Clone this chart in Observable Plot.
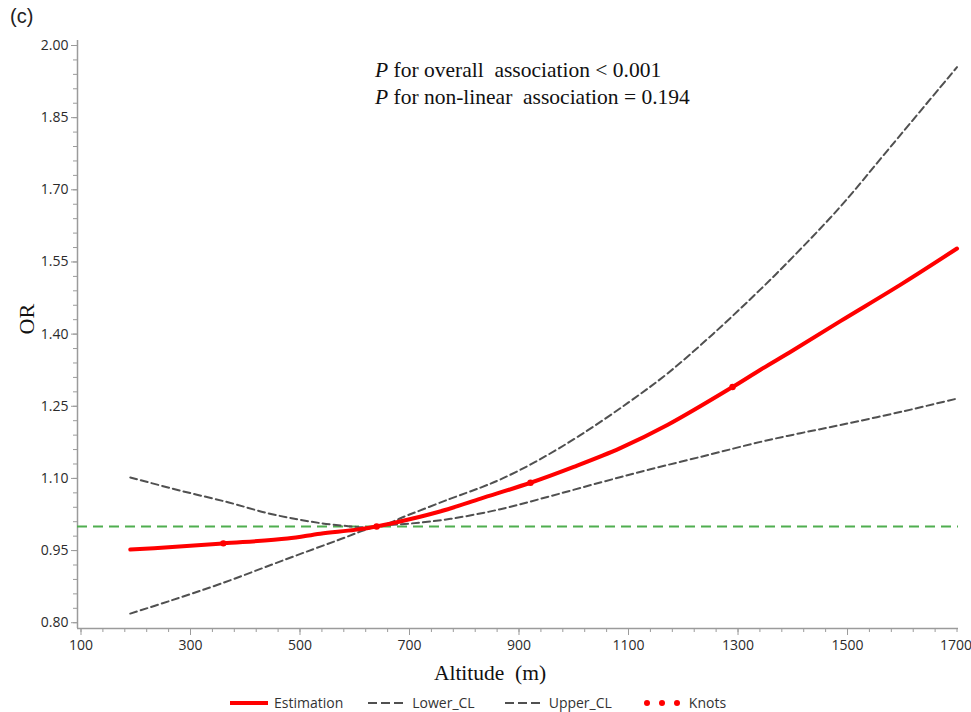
<!DOCTYPE html>
<html>
<head>
<meta charset="utf-8">
<script src="https://cdn.jsdelivr.net/npm/d3@7"></script>
<script src="https://cdn.jsdelivr.net/npm/@observablehq/plot@0.6"></script>
<style>
  body { margin: 0; background: #fff; }
  #wrap { position: relative; width: 971px; height: 712px; overflow: hidden; background: #fff; }
  #tag { position: absolute; left: 10px; top: 3px; font-family: "Liberation Sans", Arial, sans-serif; font-size: 20px; line-height: 26px; color: #222; }
  #chart { position: absolute; left: 0; top: 30px; }
  #ann { position: absolute; left: 375px; top: 57px; font-family: "Liberation Serif", "Times New Roman", serif; font-size: 21.5px; line-height: 27px; color: #111; white-space: pre; }
  #legend { position: absolute; left: 230px; top: 695px; display: flex; align-items: center; font-family: "Open Sans", sans-serif; font-size: 14px; color: #333; line-height: 16px; }
  .item { display: flex; align-items: center; gap: 6px; }
</style>
</head>
<body>
<div id="wrap">
  <div id="tag">(c)</div>
  <div id="chart"></div>
  <div id="ann"><i>P</i> for overall  association &lt; 0.001
<i>P</i> for non-linear  association = 0.194</div>
  <div id="legend"></div>
</div>
<script>
// ---- data ----
const estAlt = [190, 260, 360, 477, 537, 600, 640, 700, 770, 830, 921, 1000, 1085, 1171, 1290, 1341, 1400, 1487, 1600, 1700];
const estOR  = [0.952, 0.957, 0.965, 0.975, 0.985, 0.993, 1.000, 1.015, 1.036, 1.058, 1.091, 1.124, 1.163, 1.211, 1.290, 1.326, 1.366, 1.427, 1.505, 1.578];

const lowAlt = [190, 264, 355, 477, 568, 640, 700, 775, 866, 957, 1050, 1140, 1250, 1341, 1414, 1487, 1600, 1700];
const lowOR  = [0.819, 0.846, 0.881, 0.933, 0.971, 1.000, 1.006, 1.016, 1.036, 1.063, 1.092, 1.119, 1.150, 1.176, 1.194, 1.211, 1.239, 1.266];

const upAlt = [190, 280, 370, 440, 500, 560, 640, 700, 775, 830, 870, 934, 1012, 1100, 1171, 1255, 1341, 1400, 1487, 1579, 1700];
const upOR  = [1.102, 1.075, 1.050, 1.028, 1.014, 1.004, 1.000, 1.025, 1.058, 1.081, 1.100, 1.137, 1.190, 1.258, 1.318, 1.401, 1.493, 1.560, 1.665, 1.790, 1.955];

const knotAlt = [360, 640, 921, 1290];
const knotOR  = [0.965, 1.000, 1.091, 1.290];

const refOR = 1;

const xTicks = [100, 300, 500, 700, 900, 1100, 1300, 1500, 1700];
const yTicks = [0.80, 0.95, 1.10, 1.25, 1.40, 1.55, 1.70, 1.85, 2.00];
const xMinorTicks = d3.range(0, 41).map(i => 100 + i * 40);
const yMinorTicks = d3.range(0, 41).map(i => +(0.80 + i * 0.03).toFixed(2));

const xDomain = [93.6, 1702.7];
const yDomain = [0.788, 2.0104];

const toRows = (xs, ys) => xs.map((a, i) => ({alt: a, or: ys[i]}));
const estimation = toRows(estAlt, estOR);
const lower = toRows(lowAlt, lowOR);
const upper = toRows(upAlt, upOR);
const knots = toRows(knotAlt, knotOR);

const axisGray = "#9b9b9b";
const serif = "'Liberation Serif', 'Times New Roman', serif";
const xAxisStyle = {tickSize: 7, tickPadding: 5, tickFormat: d => String(d), stroke: axisGray, fill: "#2b2b2b", fontSize: 14, label: null};

const chart = Plot.plot({
  width: 971,
  height: 662,
  marginTop: 10,
  marginBottom: 64,
  marginLeft: 77,
  marginRight: 13,
  x: {domain: xDomain},
  y: {domain: yDomain},
  style: {fontFamily: "'Open Sans', sans-serif", fontSize: "14px", color: "#333", background: "white", overflow: "visible"},
  marks: [
    Plot.axisX({ticks: xMinorTicks, tickSize: 4, tickFormat: () => "", stroke: axisGray, label: null}),
    Plot.axisY({ticks: yMinorTicks, tickSize: 4, tickFormat: () => "", stroke: axisGray, label: null}),
    Plot.axisX({...xAxisStyle, ticks: xTicks.slice(0, -1)}),
    Plot.axisX({...xAxisStyle, ticks: xTicks.slice(-1), textAnchor: "end", dx: 15}),
    Plot.axisY({ticks: yTicks, tickSize: 6, tickPadding: 3, tickFormat: d3.format(".2f"), stroke: axisGray, fill: "#2b2b2b", fontSize: 14, label: null}),
    Plot.ruleX([xDomain[0]], {stroke: axisGray, strokeWidth: 1.5}),
    Plot.ruleY([yDomain[0]], {stroke: axisGray, strokeWidth: 1.5}),
    Plot.ruleY([refOR], {stroke: "#4fae4f", strokeWidth: 2, strokeDasharray: "10,6"}),
    Plot.line(lower, {x: "alt", y: "or", stroke: "#505050", strokeWidth: 2, strokeDasharray: "7,4", curve: "catmull-rom"}),
    Plot.line(upper, {x: "alt", y: "or", stroke: "#505050", strokeWidth: 2, strokeDasharray: "7,4", curve: "catmull-rom"}),
    Plot.line(estimation, {x: "alt", y: "or", stroke: "#ff0000", strokeWidth: 4, curve: "catmull-rom"}),
    Plot.dot(knots, {x: "alt", y: "or", r: 3.2, fill: "#ff0000"}),
    Plot.text(["Altitude\u00a0 (m)"], {frameAnchor: "bottom", dx: -28, dy: 45, lineAnchor: "middle", fontFamily: serif, fontSize: 21.5, fill: "#111"}),
    Plot.text(["OR"], {frameAnchor: "left", dx: -51, rotate: -90, lineAnchor: "middle", fontFamily: serif, fontSize: 22, fill: "#111"})
  ]
});
document.getElementById("chart").appendChild(chart);

// ---- legend ----
const legendItems = [
  {label: "Estimation", kind: "solid", gapBefore: 0},
  {label: "Lower_CL", kind: "dash", gapBefore: 25},
  {label: "Upper_CL", kind: "dash", gapBefore: 30},
  {label: "Knots", kind: "dots", gapBefore: 31}
];
const legend = d3.select("#legend");
for (const it of legendItems) {
  const item = legend.append("div").attr("class", "item").style("margin-left", it.gapBefore + "px");
  const sw = item.append("svg").attr("width", it.kind === "dots" ? 40 : 38).attr("height", 10);
  if (it.kind === "solid") {
    sw.append("line").attr("x1", 0).attr("x2", 38).attr("y1", 5).attr("y2", 5).attr("stroke", "#ff0000").attr("stroke-width", 4);
  } else if (it.kind === "dash") {
    sw.append("line").attr("x1", 0).attr("x2", 38).attr("y1", 5).attr("y2", 5).attr("stroke", "#505050").attr("stroke-width", 2).attr("stroke-dasharray", "9,4");
  } else {
    [4, 19, 34].forEach(cx => sw.append("circle").attr("cx", cx).attr("cy", 5).attr("r", 3).attr("fill", "#ff0000"));
  }
  item.append("span").text(it.label);
}
</script>
</body>
</html>
